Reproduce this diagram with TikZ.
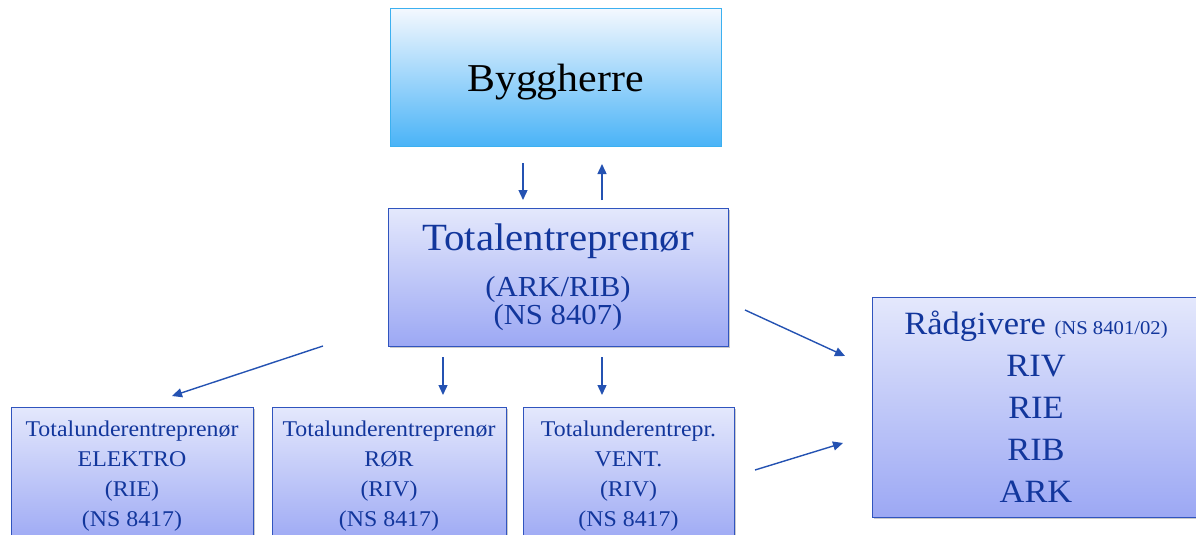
\documentclass[tikz,border=0pt]{standalone}
\usepackage{fontspec}
\setmainfont[FakeStretch=1.06]{Liberation Serif}
\usetikzlibrary{arrows.meta,shadows}

\definecolor{skyTop}{RGB}{243,248,254}
\definecolor{skyBot}{RGB}{74,179,247}
\definecolor{skyLine}{RGB}{60,176,240}
\definecolor{lavTop}{RGB}{228,232,252}
\definecolor{lavBot}{RGB}{156,168,244}
\definecolor{boxLine}{RGB}{48,84,190}
\definecolor{inkBlue}{RGB}{18,54,156}
\definecolor{arrowBlue}{RGB}{36,82,178}

\tikzset{
  ownerbox/.style={draw=skyLine, line width=1pt, top color=skyTop, bottom color=skyBot,
    inner sep=0pt, text=black, align=center},
  orgbox/.style={draw=boxLine, line width=1pt, top color=lavTop, bottom color=lavBot,
    inner sep=0pt, text=inkBlue, align=center,
    drop shadow={shadow xshift=2pt, shadow yshift=-2pt, opacity=0.35, fill=black!60}},
  flow/.style={draw=arrowBlue, line width=1.4pt,
    -{Triangle[length=10pt,width=9pt]}}
}

\begin{document}
\begin{tikzpicture}[x=1pt,y=-1pt]
  \useasboundingbox (0,0) rectangle (1196,535);
  \clip (0,0) rectangle (1196,535);

  % client
  \node[ownerbox, minimum width=331pt, minimum height=137pt,
        text height=29pt, text depth=0pt,
        font=\fontsize{39.5}{44}\selectfont] (bh) at (555.5,77.5) {Byggherre};

  % main contractor
  \node[orgbox, minimum width=340pt, minimum height=138pt,
        font=\fontsize{29}{28}\selectfont] (te) at (558,277)
    {{\fontsize{38.5}{38}\selectfont Totalentreprenør}\\[17pt](ARK/RIB)\\(NS 8407)};

  % sub-contractors
  \node[orgbox, minimum width=242pt, minimum height=138pt,
        font=\fontsize{22.5}{30}\selectfont] (el) at (132,476)
    {Totalunderentreprenør\\ELEKTRO\\(RIE)\\(NS 8417)};
  \node[orgbox, minimum width=234pt, minimum height=138pt,
        font=\fontsize{22.5}{30}\selectfont] (ror) at (389,476)
    {Totalunderentreprenør\\RØR\\(RIV)\\(NS 8417)};
  \node[orgbox, minimum width=211pt, minimum height=138pt,
        font=\fontsize{22.5}{30}\selectfont] (ve) at (628.5,476)
    {Totalunderentrepr.\\VENT.\\(RIV)\\(NS 8417)};

  % consultants
  \node[orgbox, minimum width=328pt, minimum height=220pt,
        font=\fontsize{32.5}{42}\selectfont] (rg) at (1036,407)
    {Rådgivere {\fontsize{19.5}{20}\selectfont (NS 8401/02)}\\RIV\\RIE\\RIB\\ARK};

  % free-floating connector ends
  \coordinate (d1a) at (523,163); \coordinate (d1b) at (523,200);
  \coordinate (u1a) at (602,200); \coordinate (u1b) at (602,164);
  \coordinate (d2a) at (443,357); \coordinate (d2b) at (443,395);
  \coordinate (d3a) at (602,357); \coordinate (d3b) at (602,395);
  \coordinate (l1a) at (323,346); \coordinate (l1b) at (172,396);
  \coordinate (r1a) at (745,310); \coordinate (r1b) at (845,356);
  \coordinate (r2a) at (755,470); \coordinate (r2b) at (843,443);

  \draw[flow] (d1a) -- (d1b);
  \draw[flow] (u1a) -- (u1b);
  \draw[flow] (d2a) -- (d2b);
  \draw[flow] (d3a) -- (d3b);
  \draw[flow] (l1a) -- (l1b);
  \draw[flow] (r1a) -- (r1b);
  \draw[flow] (r2a) -- (r2b);
\end{tikzpicture}
\end{document}
